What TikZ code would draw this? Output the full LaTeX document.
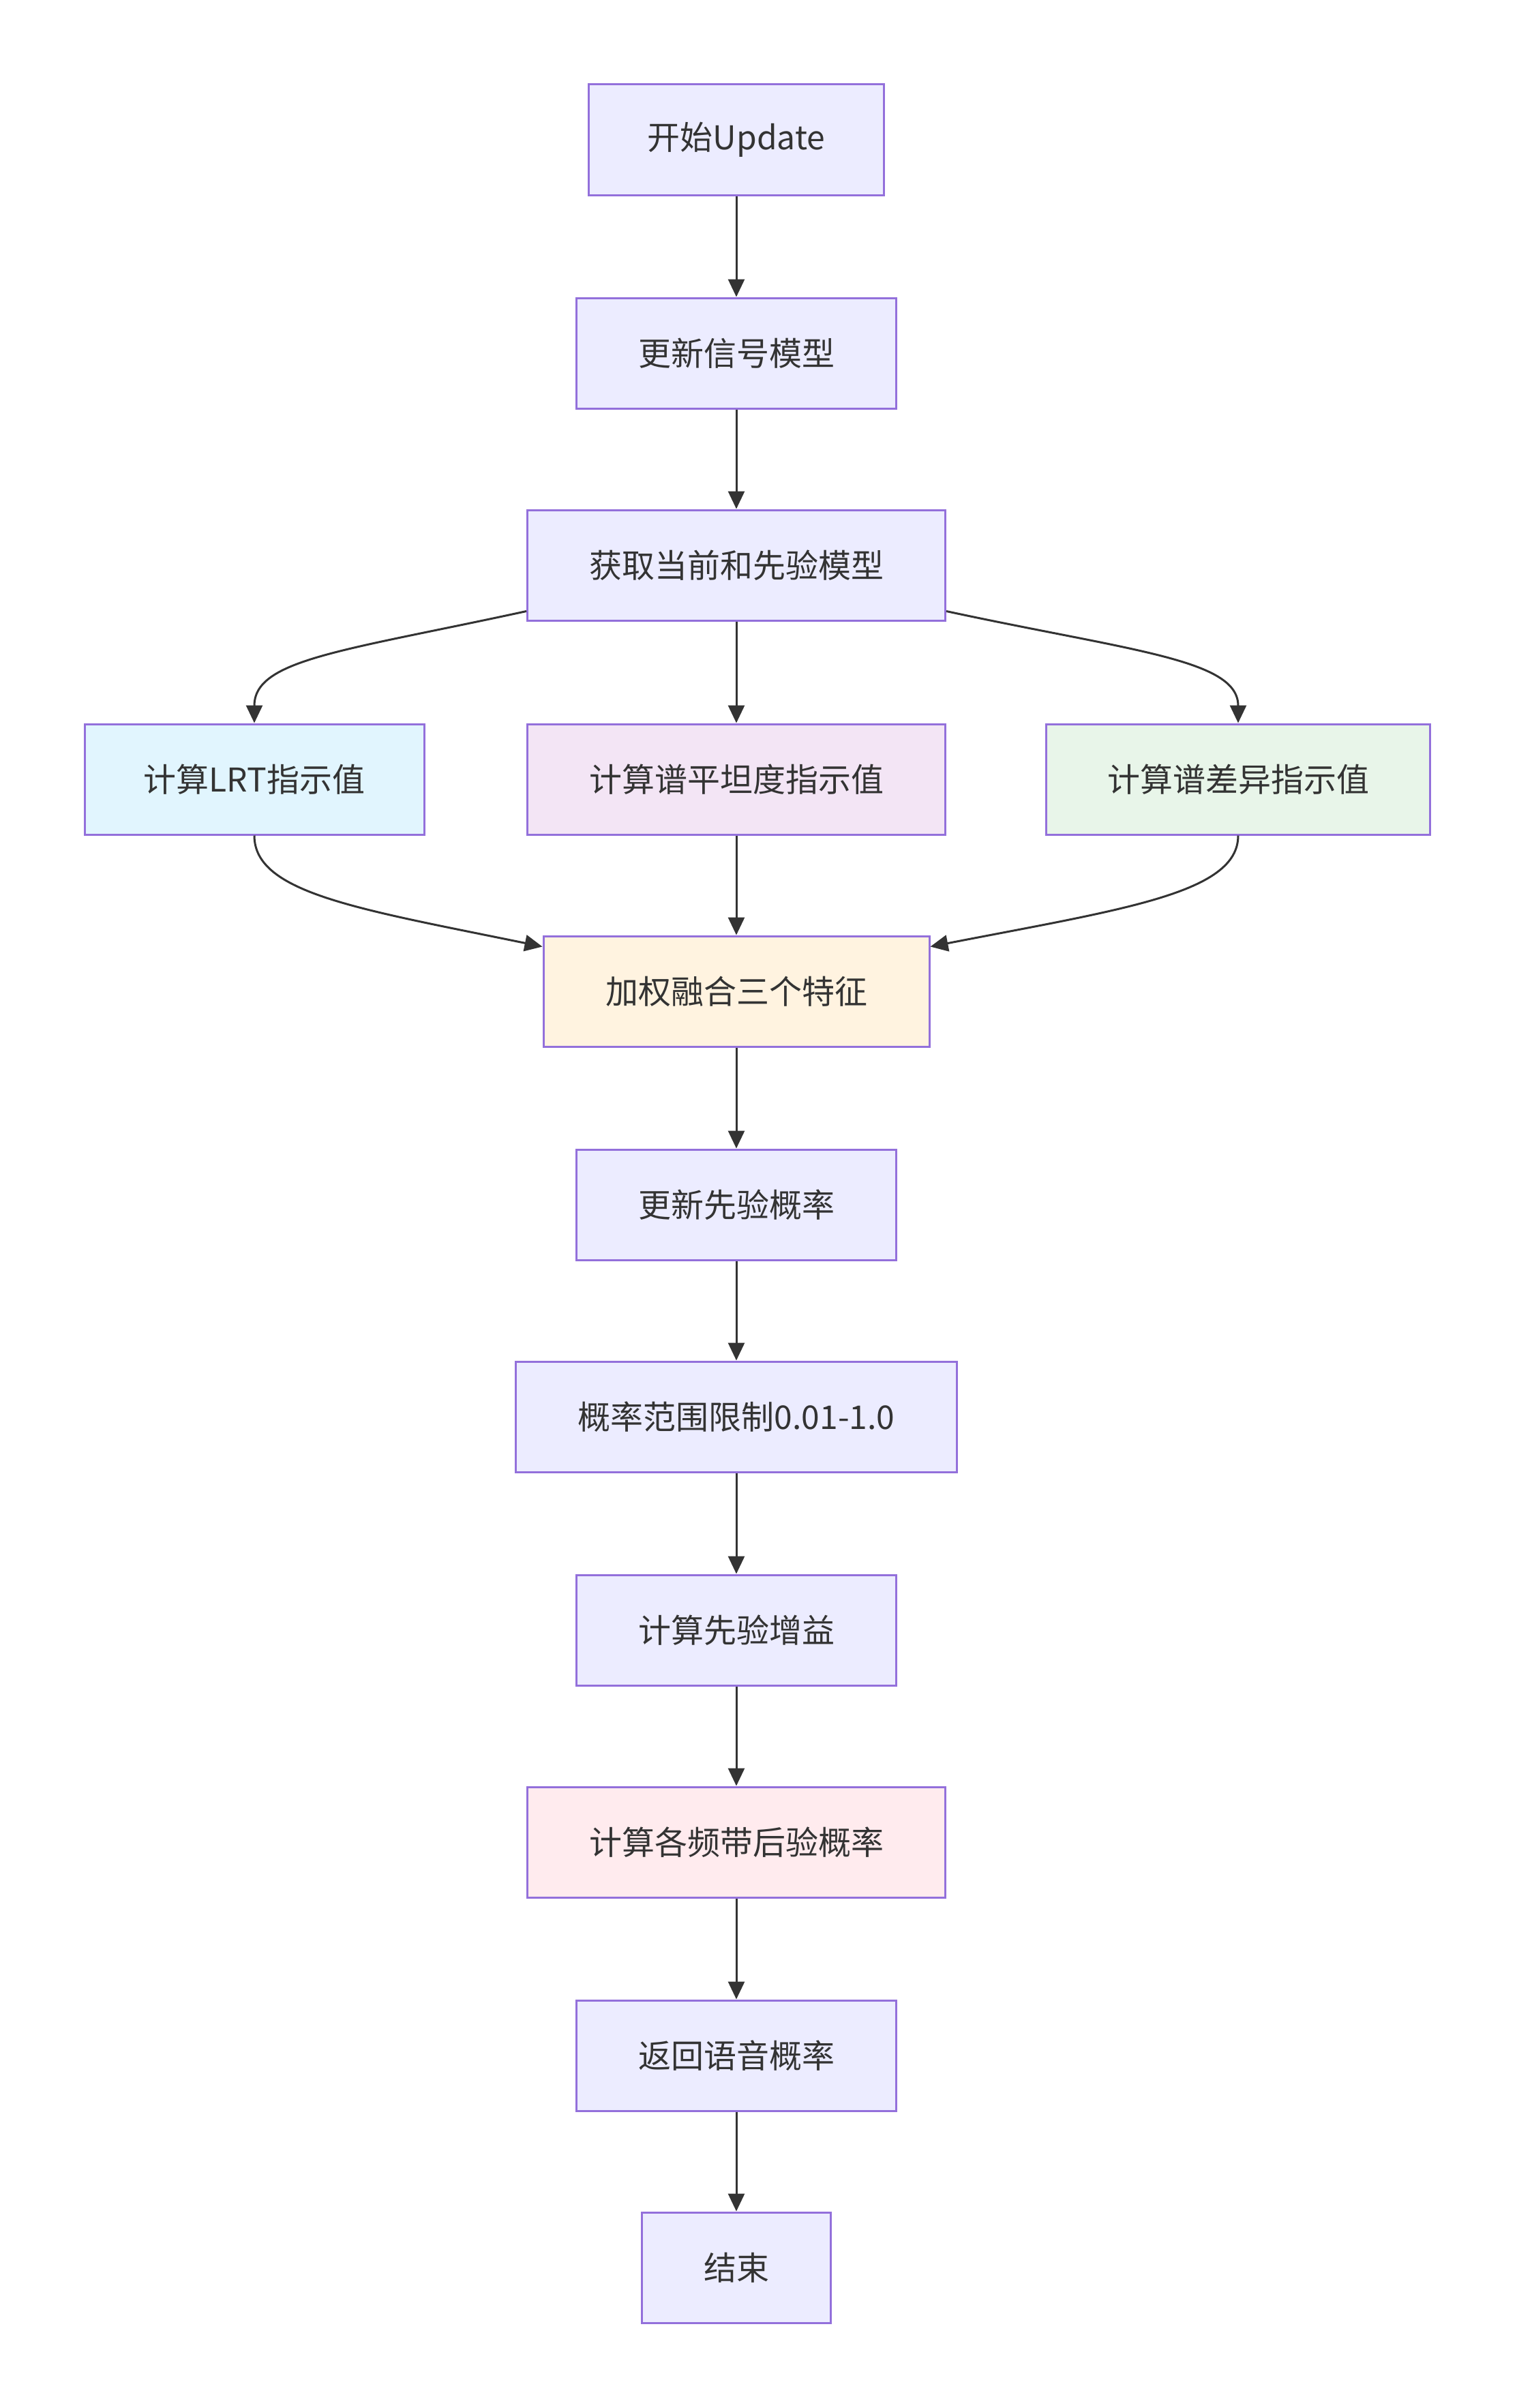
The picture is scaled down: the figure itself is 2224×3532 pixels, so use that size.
\documentclass[tikz,border=0pt]{standalone}
\usepackage{fontspec}
\setmainfont{Noto Sans CJK SC}
\usetikzlibrary{arrows.meta}
\definecolor{boxfill}{HTML}{ECECFF}
\definecolor{boxline}{HTML}{9370DB}
\definecolor{ink}{HTML}{333333}
\definecolor{lrtfill}{HTML}{E1F5FE}
\definecolor{flatfill}{HTML}{F3E5F5}
\definecolor{difffill}{HTML}{E8F5E9}
\definecolor{fusefill}{HTML}{FFF3E0}
\definecolor{postfill}{HTML}{FFEBEE}
\begin{document}
\begin{tikzpicture}[x=0.5pt,y=-0.5pt,
    stepbox/.style={draw=boxline,fill=boxfill,line width=1.5pt,text=ink,
      minimum height=81pt,inner sep=0pt,font=\fontsize{24}{28}\selectfont},
    flow/.style={draw=ink,line width=1.5pt,-{Triangle[length=13pt,width=12pt]}}]
  \useasboundingbox (0,0) rectangle (2224,3532);
  \node[stepbox,minimum width=216.5pt] (start) at (1080,205) {开始Update};
  \node[stepbox,minimum width=234.5pt] (signal) at (1080,518) {更新信号模型};
  \node[stepbox,minimum width=306.5pt] (fetch) at (1080,829) {获取当前和先验模型};
  \node[stepbox,minimum width=249pt,fill=lrtfill] (lrt) at (373,1143) {计算LRT指示值};
  \node[stepbox,minimum width=306.5pt,fill=flatfill] (flat) at (1080,1143) {计算谱平坦度指示值};
  \node[stepbox,minimum width=281.5pt,fill=difffill] (diff) at (1816,1143) {计算谱差异指示值};
  \node[stepbox,minimum width=283pt,fill=fusefill] (fuse) at (1080,1454) {加权融合三个特征};
  \node[stepbox,minimum width=234.5pt] (prior) at (1080,1767) {更新先验概率};
  \node[stepbox,minimum width=323.5pt] (clamp) at (1080,2078) {概率范围限制0.01-1.0};
  \node[stepbox,minimum width=234.5pt] (gain) at (1080,2391) {计算先验增益};
  \node[stepbox,minimum width=306.5pt,fill=postfill] (post) at (1080,2702) {计算各频带后验概率};
  \node[stepbox,minimum width=234.5pt] (ret) at (1080,3015) {返回语音概率};
  \node[stepbox,minimum width=138.5pt] (stop) at (1080,3326) {结束};
  \foreach \a/\b in {start/signal,signal/fetch,fetch/flat,flat/fuse,fuse/prior,
      prior/clamp,clamp/gain,gain/post,post/ret,ret/stop}
    \draw[flow] (\a) -- (\b);
  % side branches
  \draw[flow] ([yshift=7.5pt]fetch.south west) .. controls (503,955) and (373,967) .. (lrt.north);
  \draw[flow] ([yshift=7.5pt]fetch.south east) .. controls (1660,955) and (1816,967) .. (diff.north);
  \draw[flow] (lrt.south) .. controls (373,1310) and (525,1333) .. ([yshift=-8.5pt]fuse.north west);
  \draw[flow] (diff.south) .. controls (1816,1310) and (1650,1333) .. ([yshift=-8.5pt]fuse.north east);
\end{tikzpicture}
\end{document}
